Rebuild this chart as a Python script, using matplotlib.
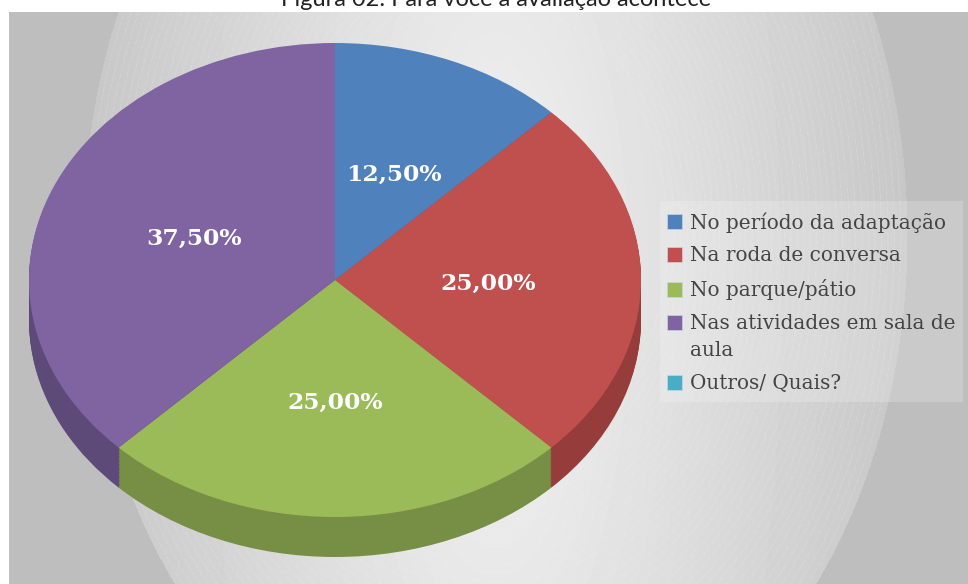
import numpy as np
import matplotlib
matplotlib.use("Agg")
import matplotlib.pyplot as plt
from matplotlib.patches import Ellipse, Rectangle

title = "Figura 02: Para você a avaliação acontece"
categories = ["No período da adaptação", "Na roda de conversa", "No parque/pátio",
              "Nas atividades em sala de\naula", "Outros/ Quais?"]
values = [12.5, 25.0, 25.0, 37.5, 0.0]
colors = ["#4f81bd", "#c0504d", "#9bbb59", "#8064a2", "#4bacc6"]
side_colors = ["#3d6491", "#963d3b", "#778f44", "#5d4a78", "#3a8499"]

W, H = 968, 584
fig = plt.figure(figsize=(W / 100, H / 100), dpi=100, facecolor="white")


def px_axes(x0, y0, x1, y1):
    # pixel box, y measured from the top
    return fig.add_axes([x0 / W, 1 - y1 / H, (x1 - x0) / W, (y1 - y0) / H])


# background panel, gradient mostly across x with a hard elliptical edge
cx, cy, a, b = 495, 235, 412, 555
bg = px_axes(9, 12, W, H)
xx, yy = np.meshgrid(np.arange(9, W), np.arange(12, H))
dist = np.hypot((xx - cx) / a, (yy - cy) / b)
soft = np.hypot((xx - cx) / a, (yy - 290) / (2.2 * b))
shade = 0.95 - 0.17 * np.clip(soft, 0, 1)
shade[dist > 1] = 0.745
bg.imshow(shade, cmap="gray", vmin=0, vmax=1, aspect="auto",
          extent=(9, W, H, 12), interpolation="nearest")
# faint broken rings of the picture fill
for r in np.arange(0.42, 1.0, 0.0157):
    bg.add_patch(Ellipse((cx, cy), 2 * a * r, 2 * b * r, fill=False, edgecolor="white",
                         alpha=0.2, linewidth=0.5, linestyle=(0, (9, 3))))
bg.axis("off")
bg.set_xlim(9, W)
bg.set_ylim(H, 12)

fig.text(496 / W, 1 - 6 / H, title, ha="center", va="baseline", fontsize=17,
         family="Lato", color="#222222")

# pie: top ellipse is 306 x 237 px around (335, 280), wall 40 px deep
ry = 237
depth = 40 / ry
ax = px_axes(335 - 306, 280 - ry, 335 + 306, 280 + ry + 40)
ax.patch.set_alpha(0)
for d in np.linspace(depth, 0.005, 30):
    ax.pie(values, colors=side_colors, startangle=90, counterclock=False,
           center=(0, -d), radius=1)
wedges, _ = ax.pie(values, colors=colors, startangle=90, counterclock=False, radius=1)
ax.set_aspect("auto")
ax.set_xlim(-1, 1)
ax.set_ylim(-1 - depth, 1)

# percent labels, one per slice that has a value
cum = 0
for v in values[:4]:
    ang = np.deg2rad(90 - (cum + v / 2) * 3.6)
    cum += v
    ax.text(0.5 * np.cos(ang), 0.5 * np.sin(ang) - 0.018, f"{v:.2f}%".replace(".", ","),
            color="white", fontsize=16.8, fontweight="bold", family="DejaVu Serif",
            ha="center", va="center")

# legend box
fig.add_artist(Rectangle((660 / W, 1 - 402 / H), 303 / W, 201 / H, transform=fig.transFigure,
                         facecolor="white", alpha=0.2, edgecolor="none"))
handles = [Rectangle((0, 0), 1, 1, facecolor=c, edgecolor="#c8d4e4", linewidth=0.5) for c in colors]
leg = fig.legend(handles, categories, loc="upper left", bbox_to_anchor=(661 / W, 1 - 206 / H),
                 frameon=False, labelcolor="#444444", handlelength=0.75, handleheight=0.75,
                 handletextpad=0.4, labelspacing=0.69, borderpad=0.3, borderaxespad=0,
                 prop={"family": "DejaVu Serif", "size": 14.45})
for t in leg.get_texts():
    t.set_linespacing(1.55)
# the two-line entry keeps its square on the first line
h = leg.legend_handles[3]
h.set_y(h.get_y() + 10.8)

fig.savefig("out.png", dpi=100)
